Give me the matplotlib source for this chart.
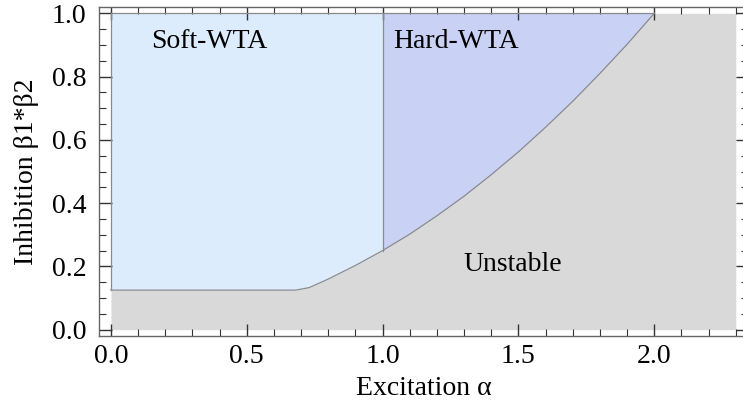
import matplotlib.pyplot as plt
from matplotlib.ticker import MultipleLocator

plt.rcParams['font.family'] = ['Liberation Serif', 'DejaVu Serif']

# stability boundary (alpha, beta1*beta2)
alpha = [0.0, 0.68, 0.73, 0.8, 0.9, 1.0, 1.1, 1.2, 1.3, 1.4, 1.5,
         1.6, 1.7, 1.8, 1.9, 2.0, 2.3]
boundary = [0.125, 0.125, 0.133, 0.16, 0.203, 0.25, 0.302, 0.36, 0.422,
            0.49, 0.562, 0.64, 0.722, 0.81, 0.902, 1.0, 1.0]
split = 1.0      # soft / hard WTA border
top = 1.0
region_labels = ['Soft-WTA', 'Hard-WTA', 'Unstable']

soft_c = '#dcecfd'
hard_c = '#c9d1f4'
gray_c = '#d9d9d9'
edge_c = '#8a8a8a'

fig = plt.figure(figsize=(7.43, 4.07), dpi=100)
ax = fig.add_axes([99 / 743, 71 / 407, 649 / 743, 329 / 407])

soft_x = [a for a in alpha if a <= split]
soft_y = [b for a, b in zip(alpha, boundary) if a <= split]
hard_x = [a for a in alpha if split <= a <= 2.0]
hard_y = [b for a, b in zip(alpha, boundary) if split <= a <= 2.0]

ax.fill_between(alpha, 0, boundary, color=gray_c, lw=0)
ax.fill_between(soft_x, soft_y, top, color=soft_c, lw=0)
ax.fill_between(hard_x, hard_y, top, color=hard_c, lw=0)

# outlines
ax.plot(alpha[:-1], boundary[:-1], color=edge_c, lw=0.9)
ax.plot([0, 0], [boundary[0], top], color=edge_c, lw=0.9)
ax.plot([0, 2.0], [top, top], color=edge_c, lw=0.9)
ax.plot([split, split], [hard_y[0], top], color=edge_c, lw=0.9)

ax.text(0.36, 0.91, region_labels[0], fontsize=20, ha='center', va='center')
ax.text(1.27, 0.91, region_labels[1], fontsize=20, ha='center', va='center')
ax.text(1.48, 0.206, region_labels[2], fontsize=20, ha='center', va='center')

ax.set_xlim(-0.044, 2.345)
ax.set_ylim(-0.02, 1.02)
ax.xaxis.set_major_locator(MultipleLocator(0.5))
ax.xaxis.set_minor_locator(MultipleLocator(0.1))
ax.yaxis.set_major_locator(MultipleLocator(0.2))
ax.yaxis.set_minor_locator(MultipleLocator(0.05))
ax.tick_params(which='both', direction='in', top=True, right=True,
               labelsize=20, color='#333333')
ax.tick_params(which='major', length=9, width=1, pad=6)
ax.tick_params(which='minor', length=5, width=0.8)
ax.tick_params(axis='y', which='major', pad=9)
for s in ax.spines.values():
    s.set_color('#666666')
    s.set_linewidth(1)

ax.set_xlabel('Excitation α', fontsize=20, labelpad=5)
ax.set_ylabel('Inhibition β1*β2', fontsize=20, labelpad=9)

fig.savefig('out.png', dpi=100)
